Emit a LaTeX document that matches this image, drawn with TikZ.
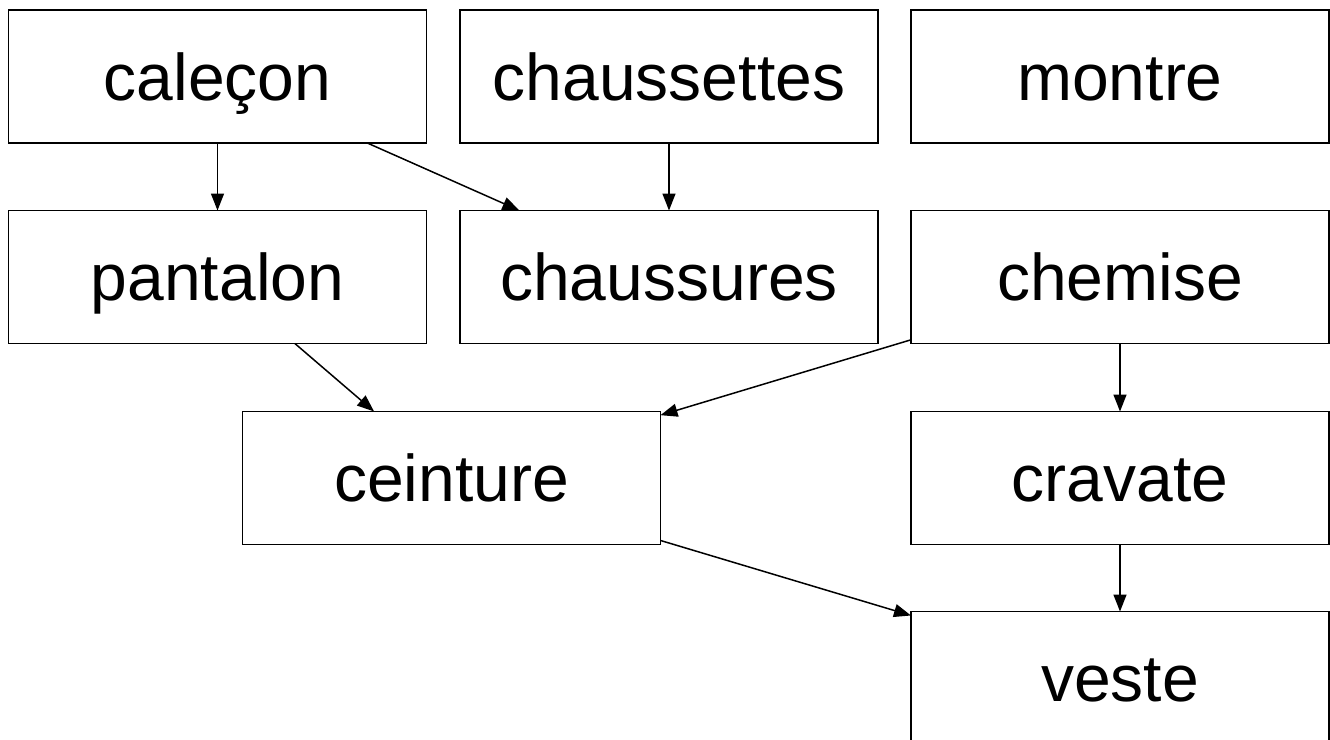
\documentclass[tikz,border=0pt]{standalone}
\usepackage{fontspec}
\setmainfont{Liberation Sans}
\usetikzlibrary{arrows.meta}
\begin{document}
\begin{tikzpicture}[x=0.5pt,y=-0.5pt,
  box/.style={draw=black,line width=0.75pt,minimum width=209pt,minimum height=66.5pt,
    inner sep=0pt,outer sep=0pt,font=\fontsize{33pt}{36pt}\selectfont,
    text height=23.5pt,text depth=0pt},
  link/.style={line width=0.75pt,-{Triangle[length=8.5pt,width=6.5pt]}}]
\useasboundingbox (0,0) rectangle (1330,740);
\node[box] (calecon) at (217.5,76.5) {caleçon};
\node[box] (chaussettes) at (669,76.5) {chaussettes};
\node[box] (montre) at (1120,76.5) {montre};
\node[box] (pantalon) at (217.5,277) {pantalon};
\node[box] (chaussures) at (669,277) {chaussures};
\node[box] (chemise) at (1120,277) {chemise};
\node[box] (ceinture) at (451.5,478) {ceinture};
\node[box] (cravate) at (1120,478) {cravate};
\node[box] (veste) at (1120,678) {veste};
\draw[link] (calecon) -- (pantalon);
\draw[link] (calecon) -- (chaussures);
\draw[link] (chaussettes) -- (chaussures);
\draw[link] (pantalon) -- (ceinture);
\draw[link] (chemise) -- (ceinture);
\draw[link] (chemise) -- (cravate);
\draw[link] (ceinture) -- (veste);
\draw[link] (cravate) -- (veste);
\end{tikzpicture}
\end{document}
